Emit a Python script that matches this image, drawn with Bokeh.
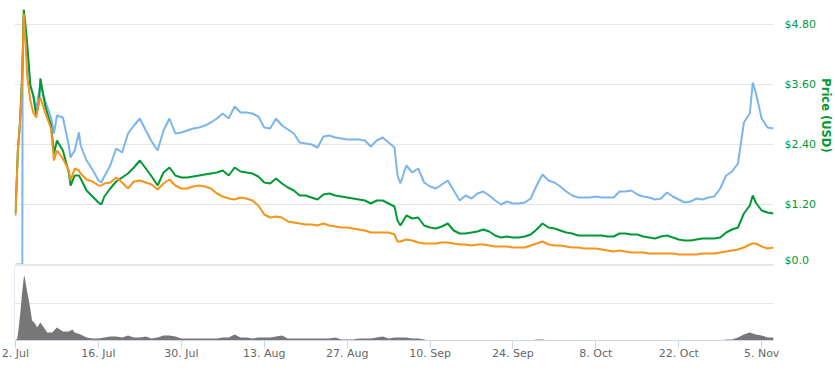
import numpy as np
import pandas as pd
from bokeh.plotting import figure
from bokeh.models import Range1d, FixedTicker, Span, Grid
from bokeh.layouts import column
from bokeh.embed import file_html
from bokeh.resources import INLINE

# ---------------- data ----------------
START_DATE = "2018-07-02"

# day offsets from START_DATE for the three price-type series
days = [0, 0.4, 0.75, 1.0, 1.15, 1.2, 1.4, 1.7, 2, 2.5, 3, 3.5, 4, 4.2, 5, 6, 6.5, 7, 8, 9, 9.3,
        10, 10.7, 11, 12, 13, 14, 14.5, 15, 16, 17, 18, 19, 20, 21, 22, 23, 24, 25, 26, 27, 28, 29,
        30, 31, 32, 33, 34, 35, 36, 37, 38, 39, 40, 41, 42, 43, 44, 45, 46, 47, 48, 49, 50, 51, 52,
        53, 54, 55, 56, 57, 58, 59, 60, 61, 62, 63, 64, 64.5, 65, 66, 67, 68, 69, 70, 71, 72, 73,
        74, 75, 76, 77, 78, 79, 80, 81, 82, 83, 84, 85, 86, 87, 88, 89, 90, 91, 92, 93, 94, 95, 96,
        97, 98, 99, 100, 101, 102, 103, 104, 105, 106, 107, 108, 109, 110, 111, 112, 113, 114, 115,
        116, 117, 118, 119, 120, 121, 122, 123, 124, 124.5, 125, 126, 127, 128]

price_usd = [1.04, 2.28, 2.84, 3.48, 3.88, 4.08, 5.10, 4.78, 4.38, 3.58, 3.38, 2.98, 3.28, 3.72,
             3.18, 2.78, 2.22, 2.48, 2.28, 1.84, 1.58, 1.78, 1.78, 1.72, 1.48, 1.36, 1.24, 1.20,
             1.36, 1.52, 1.66, 1.74, 1.82, 1.94, 2.08, 1.92, 1.76, 1.58, 1.84, 1.94, 1.78, 1.74,
             1.74, 1.76, 1.78, 1.80, 1.82, 1.84, 1.88, 1.78, 1.94, 1.86, 1.84, 1.82, 1.76, 1.64,
             1.62, 1.72, 1.62, 1.54, 1.48, 1.38, 1.38, 1.34, 1.30, 1.40, 1.42, 1.38, 1.36, 1.34,
             1.32, 1.30, 1.28, 1.22, 1.28, 1.28, 1.22, 1.16, 0.88, 0.78, 0.98, 0.92, 0.94, 0.78,
             0.74, 0.72, 0.76, 0.82, 0.68, 0.62, 0.62, 0.64, 0.66, 0.70, 0.66, 0.58, 0.54, 0.56,
             0.54, 0.54, 0.56, 0.60, 0.70, 0.82, 0.74, 0.72, 0.68, 0.64, 0.62, 0.58, 0.58, 0.58,
             0.58, 0.58, 0.56, 0.56, 0.62, 0.62, 0.60, 0.60, 0.56, 0.54, 0.52, 0.56, 0.58, 0.54,
             0.50, 0.48, 0.48, 0.50, 0.52, 0.52, 0.52, 0.54, 0.64, 0.70, 0.74, 1.02, 1.18, 1.38,
             1.24, 1.08, 1.04, 1.02]

price_btc = [0.000147, 0.000342, 0.000417, 0.000507, 0.000567, 0.000597, 0.000753, 0.000663,
             0.000561, 0.000492, 0.000456, 0.000441, 0.000492, 0.000501, 0.000456, 0.000408,
             0.000312, 0.000342, 0.000318, 0.000282, 0.000252, 0.000288, 0.000282, 0.000273,
             0.000255, 0.000249, 0.000237, 0.000237, 0.000243, 0.000246, 0.000261, 0.000246,
             0.000228, 0.000249, 0.000252, 0.000246, 0.000240, 0.000225, 0.000243, 0.000255,
             0.000237, 0.000228, 0.000228, 0.000234, 0.000237, 0.000234, 0.000228, 0.000213,
             0.000204, 0.000198, 0.000195, 0.000201, 0.000198, 0.000192, 0.000177, 0.000150,
             0.000141, 0.000144, 0.000141, 0.000129, 0.000126, 0.000123, 0.000120, 0.000120,
             0.000117, 0.000123, 0.000117, 0.000114, 0.000111, 0.000111, 0.000108, 0.000105,
             0.000102, 0.000096, 0.000096, 0.000096, 0.000096, 0.000090, 0.000069, 0.000069,
             0.000075, 0.000072, 0.000066, 0.000063, 0.000063, 0.000063, 0.000066, 0.000066,
             0.000063, 0.000060, 0.000060, 0.000057, 0.000060, 0.000060, 0.000057, 0.000054,
             0.000054, 0.000054, 0.000051, 0.000051, 0.000051, 0.000057, 0.000063, 0.000069,
             0.000060, 0.000057, 0.000057, 0.000054, 0.000051, 0.000051, 0.000048, 0.000048,
             0.000048, 0.000045, 0.000042, 0.000039, 0.000042, 0.000039, 0.000036, 0.000036,
             0.000036, 0.000033, 0.000033, 0.000033, 0.000033, 0.000033, 0.000030, 0.000030,
             0.000030, 0.000030, 0.000033, 0.000033, 0.000033, 0.000036, 0.000039, 0.000042,
             0.000045, 0.000051, 0.000060, 0.000063, 0.000063, 0.000054, 0.000048, 0.000051]

market_cap_musd = [0, 0, 0, 0, 0, 40.8, 50.0, 46.8, 42.8, 35.8, 33.8, 30.8, 34.8, 35.8, 32.8, 29.4,
                   26.2, 29.8, 29.4, 23.8, 21.4, 22.8, 26.4, 23.8, 20.8, 19.0, 16.8, 16.4, 17.6,
                   19.8, 23.2, 22.4, 26.2, 27.8, 29.2, 26.8, 24.6, 22.8, 26.8, 29.2, 26.2, 26.4,
                   26.8, 27.2, 27.4, 27.8, 28.4, 29.2, 30.2, 29.2, 31.6, 30.4, 30.4, 30.2, 29.6,
                   27.4, 27.2, 29.2, 27.8, 27.0, 26.2, 24.4, 24.2, 24.0, 23.4, 25.6, 25.8, 25.4,
                   25.2, 25.0, 25.0, 25.0, 24.8, 23.6, 24.8, 25.4, 24.4, 23.4, 17.8, 16.2, 19.8,
                   18.4, 19.2, 16.4, 15.6, 15.2, 16.0, 16.8, 14.8, 12.8, 13.8, 13.2, 14.2, 14.6,
                   13.8, 12.8, 12.0, 12.6, 12.2, 12.2, 12.4, 13.2, 15.8, 18.0, 16.8, 16.4, 15.6,
                   14.6, 13.8, 13.4, 13.4, 13.4, 13.6, 13.4, 13.4, 13.4, 14.6, 14.6, 14.8, 14.0,
                   13.6, 13.4, 13.0, 13.2, 14.4, 13.6, 13.0, 12.4, 12.6, 13.2, 13.0, 13.4, 13.6,
                   15.2, 17.8, 18.6, 20.2, 28.4, 30.2, 36.4, 34.4, 29.2, 27.4, 27.2]

# volume series (24h volume, $M)
vol_days = [0, 0.3, 0.55, 0.85, 1.1, 1.4, 1.5, 1.85, 2.25, 2.55, 2.8, 3.3, 3.65, 4.2, 4.8, 5.35,
            6.2, 7, 8, 9, 9.6, 10, 11, 12, 13, 14, 15, 16, 17, 18, 19, 20, 21, 22, 23, 24, 25, 26,
            27, 28, 29, 30, 31, 32, 33, 34, 35, 36, 37, 38, 39, 40, 41, 42, 43, 44, 45, 46, 47, 48,
            49, 50, 51, 52, 53, 54, 55, 56, 57, 58, 59, 60, 61, 62, 63, 64, 65, 66, 67, 68, 69, 70,
            71, 72, 73, 74, 75, 76, 77, 78, 79, 80, 81, 82, 83, 84, 85, 86, 87, 88, 89, 90, 91, 92,
            93, 94, 95, 96, 97, 98, 99, 100, 101, 102, 103, 104, 105, 106, 107, 108, 109, 110, 111,
            112, 113, 114, 115, 116, 117, 118, 119, 120, 121, 122, 123, 124, 125, 126, 127, 128]

volume_musd = [0, 0.11, 0.70, 1.62, 2.54, 3.40, 3.51, 2.86, 2.16, 1.62, 1.08, 0.92, 0.70, 0.97,
               0.70, 0.43, 0.43, 0.70, 0.49, 0.49, 0.59, 0.43, 0.32, 0.16, 0.11, 0.11, 0.16, 0.22,
               0.22, 0.16, 0.27, 0.16, 0.16, 0.22, 0.11, 0.16, 0.27, 0.27, 0.22, 0.11, 0.11, 0.11,
               0.11, 0.11, 0.11, 0.11, 0.16, 0.16, 0.32, 0.16, 0.16, 0.11, 0.16, 0.16, 0.16, 0.22,
               0.27, 0.11, 0.11, 0.11, 0.11, 0.11, 0.11, 0.11, 0.11, 0.16, 0.05, 0.05, 0.05, 0.11,
               0.11, 0.11, 0.16, 0.22, 0.11, 0.16, 0.16, 0.16, 0.11, 0.11, 0.05,
               0, 0, 0, 0, 0, 0, 0, 0, 0, 0, 0, 0, 0, 0, 0, 0, 0, 0,
               0.05, 0.05,
               0, 0, 0, 0, 0, 0, 0, 0, 0, 0, 0, 0, 0, 0, 0, 0, 0, 0, 0, 0, 0, 0, 0, 0, 0, 0, 0, 0,
               0, 0,
               0.05, 0.05, 0.16, 0.32, 0.43, 0.32, 0.27, 0.16, 0.16]

x_tick_dates = ["2018-07-02", "2018-07-16", "2018-07-30", "2018-08-13", "2018-08-27",
                "2018-09-10", "2018-09-24", "2018-10-08", "2018-10-22", "2018-11-05"]
x_tick_labels = ["2. Jul", "16. Jul", "30. Jul", "13. Aug", "27. Aug",
                 "10. Sep", "24. Sep", "8. Oct", "22. Oct", "5. Nov"]
y_ticks = [0, 1.2, 2.4, 3.6, 4.8]
y_tick_labels = ["$0.0", "$1.20", "$2.40", "$3.60", "$4.80"]
vol_ticks = [0, 2, 4]
y_title = "Price (USD)"

assert len(days) == len(price_usd) == len(price_btc) == len(market_cap_musd)
assert len(vol_days) == len(volume_musd)

# ---------------- styles ----------------
BLUE = "#7cb5ec"
GREEN = "#009933"
ORANGE = "#f7931a"
VOLGRAY = "#777777"
GRID = "#e6e6e6"
AXIS = "#ccd6eb"
FONT = "DejaVu Sans"
NBSP_PAD = "\u00a0" * 10   # shifts the centred axis title upwards along the axis

DAY = 86400000.0
t0 = pd.Timestamp(START_DATE).value / 1e6
x_main = [t0 + d * DAY for d in days]
x_vol = [t0 + d * DAY for d in vol_days]
x_tick_ms = [pd.Timestamp(s).value / 1e6 for s in x_tick_dates]

xr = Range1d(t0 - 0.169 * DAY, t0 + 128.0 * DAY)

# ---------------- main (price) panel ----------------
p1 = figure(width=835, height=266, x_range=xr, y_range=Range1d(-0.04, 5.2),
            x_axis_type="datetime", x_axis_location=None, y_axis_location="right",
            output_backend="svg", toolbar_location=None,
            min_border_left=14, min_border_right=62, min_border_top=4, min_border_bottom=0,
            outline_line_color=None, background_fill_color="white", border_fill_color="white")
p1.extra_y_ranges = {"mcap": Range1d(-0.4, 52.0), "btc": Range1d(-0.000006, 0.00078)}

ax = p1.yaxis[0]
ax.ticker = FixedTicker(ticks=y_ticks)
ax.major_label_overrides = {float(t): l for t, l in zip(y_ticks, y_tick_labels)}
ax.axis_line_color = None
ax.major_tick_line_color = None
ax.minor_tick_line_color = None
ax.major_tick_out = 0
ax.major_tick_in = 0
ax.major_label_standoff = 11
ax.major_label_text_color = GREEN
ax.major_label_text_font = FONT
ax.major_label_text_font_size = "11px"
ax.major_label_text_baseline = "bottom"
ax.axis_label = y_title + NBSP_PAD
ax.axis_label_standoff = 0
ax.axis_label_text_color = GREEN
ax.axis_label_text_font = FONT
ax.axis_label_text_font_size = "11.5px"
ax.axis_label_text_font_style = "bold"

p1.ygrid.grid_line_color = GRID
p1.xgrid.grid_line_color = None

p1.add_layout(Span(location=-0.02, dimension="width", line_color=GRID, line_width=3))

p1.line(x_main, market_cap_musd, y_range_name="mcap", line_color=BLUE, line_width=2)
p1.line(x_main, price_usd, line_color=GREEN, line_width=2)
p1.line(x_main, price_btc, y_range_name="btc", line_color=ORANGE, line_width=2)

# ---------------- volume panel ----------------
p2 = figure(width=835, height=111, x_range=xr, y_range=Range1d(0, 4.0),
            x_axis_type="datetime", y_axis_location=None,
            output_backend="svg", toolbar_location=None,
            min_border_left=14, min_border_right=62, min_border_top=0, min_border_bottom=37,
            outline_line_color=None, background_fill_color="white", border_fill_color="white")

p2.ygrid.visible = False
p2.xgrid.visible = False
p2.add_layout(Grid(dimension=1, ticker=FixedTicker(ticks=vol_ticks), grid_line_color=GRID))

p2.varea(x=x_vol, y1=0, y2=volume_musd, fill_color=VOLGRAY, fill_alpha=1.0)

# thin left axis line of the volume pane
p2.add_layout(Span(location=xr.start, dimension="height", line_color=AXIS, line_width=1))

xa = p2.xaxis[0]
xa.ticker = FixedTicker(ticks=x_tick_ms)
xa.major_label_overrides = {float(t): l for t, l in zip(x_tick_ms, x_tick_labels)}
xa.axis_line_color = AXIS
xa.major_tick_line_color = AXIS
xa.minor_tick_line_color = None
xa.major_tick_out = 8
xa.major_tick_in = 0
xa.major_label_standoff = -2
xa.major_label_text_color = "#666666"
xa.major_label_text_font = FONT
xa.major_label_text_font_size = "11px"

layout = column(p1, p2)

open("out.html", "w").write(file_html(layout, INLINE))
